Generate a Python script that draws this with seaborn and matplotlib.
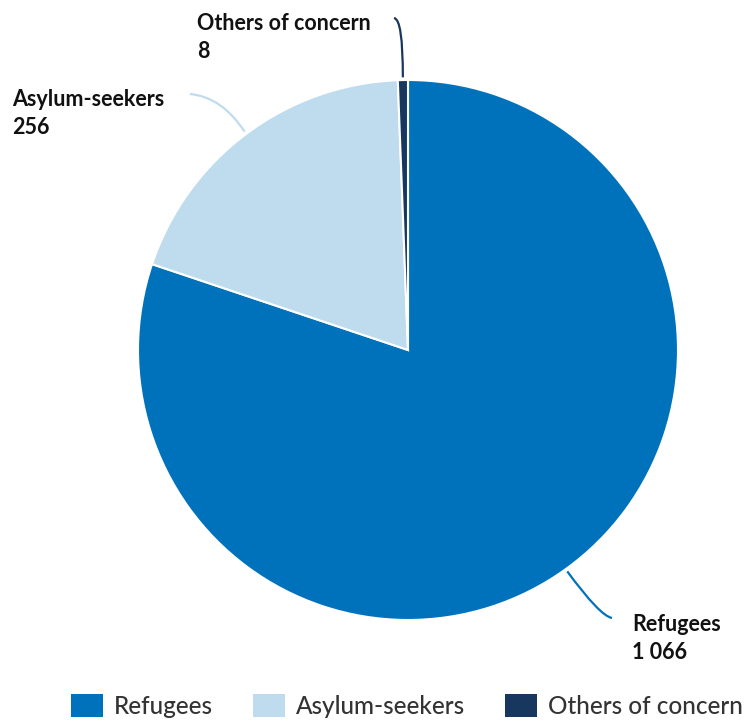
import seaborn as sns
import numpy as np
import matplotlib.pyplot as plt
from matplotlib.patches import Patch
from matplotlib.path import Path
from matplotlib.patches import PathPatch

# data
categories = ["Refugees", "Asylum-seekers", "Others of concern"]
values = [1066, 256, 8]
value_labels = ["1 066", "256", "8"]
colors = ["#0072BC", "#BFDCEE", "#18375F"]

sns.set_theme(style="white")
plt.rcParams['font.family'] = ['Lato', 'DejaVu Sans']

W, H = 747, 721
fig = plt.figure(figsize=(W / 100, H / 100), dpi=100)
cx, cy, r = 408, 350, 270
ax = fig.add_axes([(cx - r) / W, (H - cy - r) / H, 2 * r / W, 2 * r / H])

wedges, _ = ax.pie(values, colors=colors, startangle=90, counterclock=False,
                   wedgeprops=dict(edgecolor="white", linewidth=1.5))
ax.set_xlim(-1, 1)
ax.set_ylim(-1, 1)
ax.set_aspect("equal")
ax.axis("off")


def px(x, y):
    return ((x - cx) / r, (cy - y) / r)


# leader lines: start at wedge mid angle, bend to an elbow (pixel coords for elbow)
elbows = [((600, 616), (612, 618)), ((222, 97), (190, 94)), ((403, 19), (394, 18))]
for w, (ctrl, end), col in zip(wedges, elbows, colors):
    ang = np.deg2rad((w.theta1 + w.theta2) / 2)
    p0 = (1.01 * np.cos(ang), 1.01 * np.sin(ang))
    path = Path([p0, px(*ctrl), px(*end)], [Path.MOVETO, Path.CURVE3, Path.CURVE3])
    ax.add_patch(PathPatch(path, facecolor="none", edgecolor=col, lw=1.6, clip_on=False))

label_pos = [(632, 614), (12, 89), (197, 13)]
for (x, y), name, val in zip(label_pos, categories, value_labels):
    fig.text(x / W, 1 - y / H, f"{name}\n{val}", ha="left", va="top",
             fontsize=15.5, fontweight="bold", color="#111111", linespacing=1.4)

handles = [Patch(facecolor=c, edgecolor="none") for c in colors]
fig.legend(handles, categories, loc="lower center", bbox_to_anchor=(0.545, -0.026),
           ncol=3, frameon=False, prop=dict(size=17.5, weight="medium"),
           labelcolor="#333333", handlelength=1.32, handleheight=1.03,
           handletextpad=0.45, columnspacing=1.65)

fig.savefig("out.png", dpi=100)
